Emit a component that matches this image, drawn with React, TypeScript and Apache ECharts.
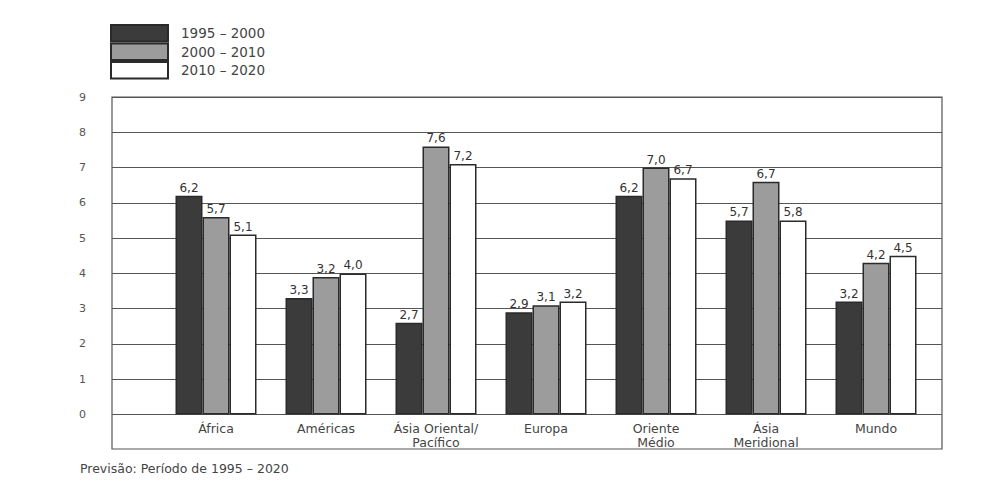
import React, { useEffect, useRef } from "react";
import * as echarts from "echarts";

const categories = [
  "África",
  "Américas",
  "Ásia Oriental/\nPacífico",
  "Europa",
  "Oriente\nMédio",
  "Ásia\nMeridional",
  "Mundo",
];
const seriesNames = ["1995 – 2000", "2000 – 2010", "2010 – 2020"];
const values1995 = [6.2, 3.3, 2.6, 2.9, 6.2, 5.5, 3.2];
const values2000 = [5.6, 3.9, 7.6, 3.1, 7.0, 6.6, 4.3];
const values2010 = [5.1, 4.0, 7.1, 3.2, 6.7, 5.5, 4.5];
const labels1995 = ["6,2", "3,3", "2,7", "2,9", "6,2", "5,7", "3,2"];
const labels2000 = ["5,7", "3,2", "7,6", "3,1", "7,0", "6,7", "4,2"];
const labels2010 = ["5,1", "4,0", "7,2", "3,2", "6,7", "5,8", "4,5"];
const yMin = 0;
const yMax = 9;
const yInterval = 1;
const footnote = "Previsão: Período de 1995 – 2020";

const FONT = "DejaVu Sans";
const colors = ["#3b3b3b", "#9c9c9c", "#ffffff"];

export default function App() {
  const ref = useRef<HTMLDivElement>(null);
  useEffect(() => {
    if (!ref.current) return;
    const chart = echarts.init(ref.current, undefined, { renderer: "svg" });
    const valueSets = [values1995, values2000, values2010];
    const labelSets = [labels1995, labels2000, labels2010];
    const plotTop = 97;
    const plotHeight = 317.5;
    chart.setOption({
      animation: false,
      backgroundColor: "#ffffff",
      textStyle: { fontFamily: FONT },
      legend: {
        orient: "vertical",
        left: 110,
        top: 24,
        itemWidth: 57,
        itemHeight: 16.5,
        itemGap: 0,
        icon: "rect",
        padding: 0,
        selectedMode: false,
        textStyle: {
          fontFamily: FONT,
          fontSize: 13.5,
          lineHeight: 16,
          color: "#444",
          padding: [0, 0, 0, 8],
        },
        data: seriesNames,
      },
      grid: [
        { left: 161, right: 55, top: plotTop, height: plotHeight },
        { left: 112, right: 44, top: plotTop, height: plotHeight },
      ],
      xAxis: [
        {
          type: "category",
          gridIndex: 0,
          data: categories,
          axisLine: { show: false },
          axisTick: { show: false },
          axisLabel: {
            margin: 7,
            fontFamily: FONT,
            fontSize: 12.5,
            color: "#444",
            lineHeight: 14,
            interval: 0,
          },
        },
        {
          type: "value",
          gridIndex: 1,
          show: false,
          min: 0,
          max: 1,
        },
      ],
      yAxis: [
        {
          type: "value",
          gridIndex: 0,
          min: yMin,
          max: yMax,
          interval: yInterval,
          show: false,
        },
        {
          type: "value",
          gridIndex: 1,
          min: yMin,
          max: yMax,
          interval: yInterval,
          axisLine: { show: false },
          axisTick: { show: false },
          axisLabel: {
            margin: 26,
            fontFamily: FONT,
            fontSize: 11,
            color: "#555",
          },
          splitLine: { show: true, lineStyle: { color: "#555", width: 1 } },
        },
      ],
      graphic: [
        {
          type: "rect",
          shape: { x: 112, y: 97, width: 830, height: 352 },
          style: { fill: "none", stroke: "#555", lineWidth: 1.2 },
          silent: true,
        },
        {
          type: "text",
          left: 80,
          top: 462,
          style: {
            text: footnote,
            fontFamily: FONT,
            fontSize: 12.5,
            fill: "#444",
          },
        },
      ],
      series: seriesNames.map((name, i) => ({
        name,
        type: "bar",
        xAxisIndex: 0,
        yAxisIndex: 0,
        data: valueSets[i],
        barWidth: 27,
        barGap: "0%",
        itemStyle: {
          color: colors[i],
          borderColor: "#2a2a2a",
          borderWidth: 1.5,
        },
        label: {
          show: true,
          position: "top",
          distance: 2,
          fontFamily: FONT,
          fontSize: 12,
          color: "#333",
          formatter: (p: any) => labelSets[i][p.dataIndex],
        },
        z: 3,
      })),
    });
    return () => chart.dispose();
  }, []);
  return (
    <div
      ref={ref}
      style={{ position: "fixed", left: 0, top: 0, width: 986, height: 491 }}
    />
  );
}
